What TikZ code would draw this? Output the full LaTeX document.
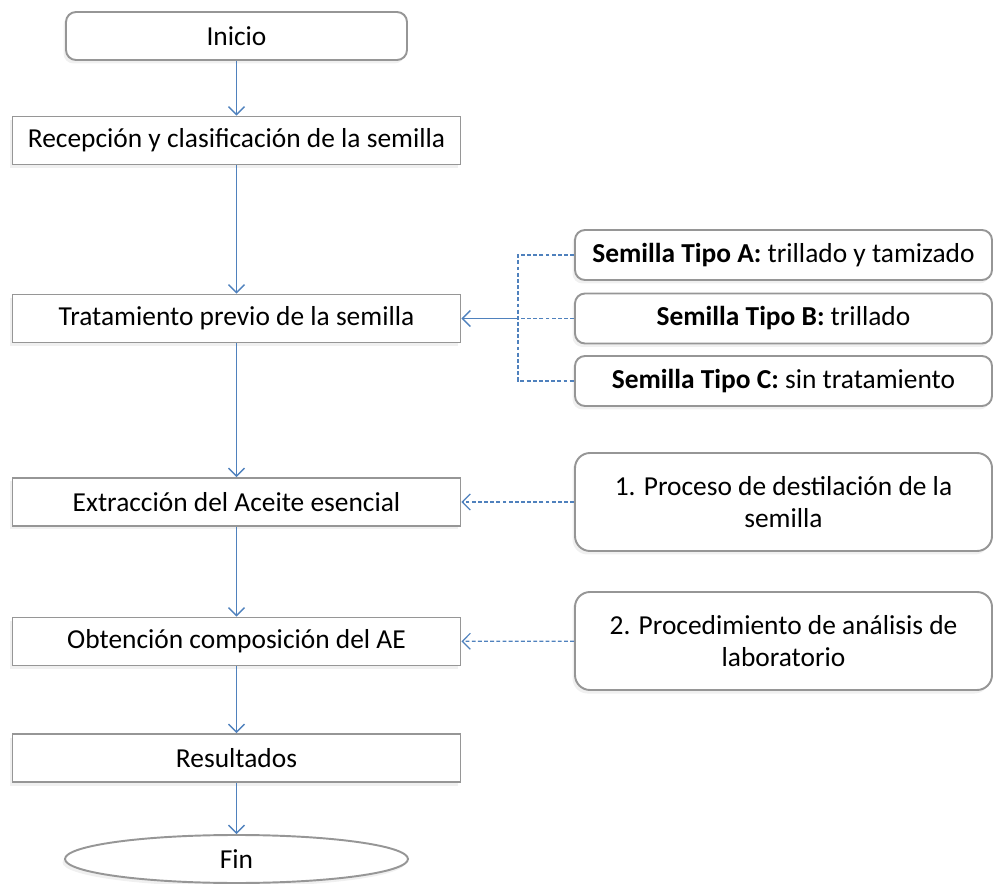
\documentclass[tikz,border=0pt]{standalone}
\usepackage{fontspec}
\setmainfont{Carlito}
\usepackage{xcolor}
\usetikzlibrary{arrows.meta,positioning,shapes.geometric,shadows}
\definecolor{linea}{RGB}{79,129,189}
\definecolor{borde}{RGB}{150,150,150}

\begin{document}
\begin{tikzpicture}[font=\fontsize{15.6}{18.5}\selectfont,
  caja/.style={draw=borde,line width=1.1pt,fill=white,inner sep=0pt,
    minimum height=0.96cm,minimum width=8.96cm,
    drop shadow={shadow xshift=-0.05cm,shadow yshift=-0.07cm,opacity=0.12}},
  redonda/.style={caja,rounded corners=0.2cm},
  tipo/.style={redonda,minimum width=8.34cm,minimum height=1.0cm},
  nota/.style={redonda,rounded corners=0.3cm,minimum width=8.34cm,
    minimum height=1.96cm,align=center},
  flecha/.style={draw=linea,line width=0.8pt,-{Straight Barb[length=1.6mm,width=3.2mm]}},
  guia/.style={draw=linea,line width=0.7pt,dash pattern=on 2.2pt off 1.3pt}]
\useasboundingbox (0,0) rectangle (19.86,-17.68);
% flujo principal
\node[redonda,minimum width=6.82cm] (inicio) at (4.73,-0.72) {Inicio};
\node[caja] (recep) at (4.73,-2.81) {Recepción y clasificación de la semilla};
\node[caja] (trat) at (4.73,-6.37) {Tratamiento previo de la semilla};
\node[caja] (extr) at (4.73,-10.04) {Extracción del Aceite esencial};
\node[caja] (obt) at (4.73,-12.83) {Obtención composición del AE};
\node[caja] (res) at (4.73,-15.16) {Resultados};
\node[ellipse,draw=borde,line width=1.1pt,fill=white,inner sep=0pt,
  minimum width=6.86cm,minimum height=0.96cm,
  drop shadow={shadow xshift=-0.05cm,shadow yshift=-0.07cm,opacity=0.12}] (fin) at (4.73,-17.18) {Fin};
% cajas de la derecha
\node[tipo] (tipoA) at (15.67,-5.10) {\textbf{Semilla Tipo A:} trillado y tamizado};
\node[tipo] (tipoB) at (15.67,-6.37) {\textbf{Semilla Tipo B:} trillado};
\node[tipo] (tipoC) at (15.67,-7.62) {\textbf{Semilla Tipo C:} sin tratamiento};
\node[nota] (dest) at (15.67,-10.04) {1. Proceso de destilación de la\\semilla};
\node[nota] (anal) at (15.67,-12.82) {2. Procedimiento de análisis de\\laboratorio};
\coordinate (junta) at (10.36,-6.37);
% conectores
\draw[flecha] (inicio) -- (recep);
\draw[flecha] (recep) -- (trat);
\draw[flecha] (trat) -- (extr);
\draw[flecha] (extr) -- (obt);
\draw[flecha] (obt) -- (res);
\draw[flecha] (res) -- (fin);
\draw[guia] (tipoA.west) -| (junta) |- (tipoC.west);
\draw[guia] (tipoB.west) -- (junta);
\draw[flecha] (junta) -- (trat.east);
\draw[guia,-{Straight Barb[length=1.6mm,width=3.2mm]}] (dest) -- (extr);
\draw[guia,-{Straight Barb[length=1.6mm,width=3.2mm]}] (anal) -- (obt);
\end{tikzpicture}
\end{document}
